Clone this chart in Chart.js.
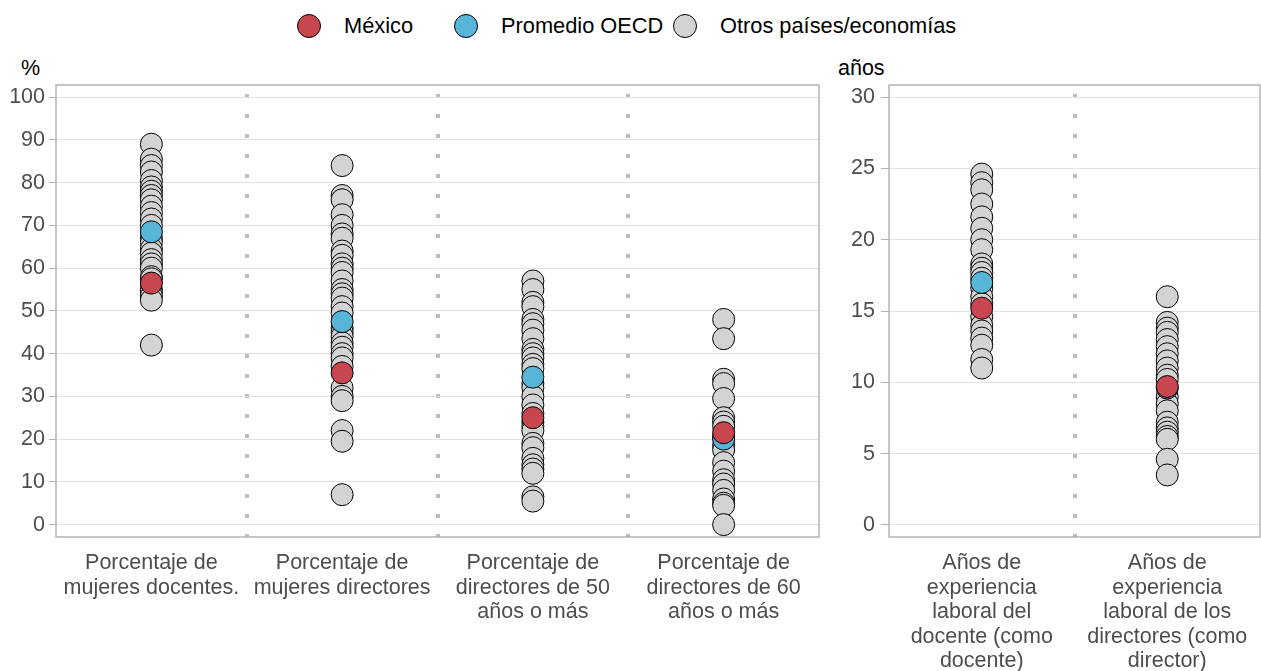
<!DOCTYPE html>
<html>
<head>
<meta charset="utf-8">
<script src="https://cdn.jsdelivr.net/npm/chart.js@4.4.1/dist/chart.umd.min.js"></script>
<style>
html,body{margin:0;padding:0;background:#fff;}
body{width:1261px;height:671px;position:relative;overflow:hidden;font-family:"Liberation Sans",Arial,sans-serif;}
#leftWrap{position:absolute;left:0;top:0;width:822px;height:671px;}
#rightWrap{position:absolute;left:822px;top:0;width:439px;height:671px;}
.unit{position:absolute;font-size:21.5px;color:#000;line-height:21px;}
.leg{position:absolute;top:14px;height:24px;display:flex;align-items:center;font-size:21.8px;color:#000;white-space:nowrap;}
.dot{width:22px;height:22px;border:1px solid #000;border-radius:50%;margin-right:23px;flex:none;}
</style>
</head>
<body>
<div id="legend"></div>
<div class="unit" style="left:21px;top:58px;">%</div>
<div class="unit" style="left:838px;top:58px;">años</div>
<div id="leftWrap"><canvas id="leftChart"></canvas></div>
<div id="rightWrap"><canvas id="rightChart"></canvas></div>
<script>
// ---------- data ----------
const seriesNames = ['México', 'Promedio OECD', 'Otros países/economías'];
const seriesColors = ['#C8474F', '#57B5D7', '#D3D3D3'];

const leftCategories = ['Porcentaje de mujeres docentes.', 'Porcentaje de mujeres directores', 'Porcentaje de directores de 50 años o más', 'Porcentaje de directores de 60 años o más'];
const leftTickLines = [['Porcentaje de', 'mujeres docentes.'], ['Porcentaje de', 'mujeres directores'], ['Porcentaje de', 'directores de 50', 'años o más'], ['Porcentaje de', 'directores de 60', 'años o más']];
const rightCategories = ['Años de experiencia laboral del docente (como docente)', 'Años de experiencia laboral de los directores (como director)'];
const rightTickLines = [['Años de', 'experiencia', 'laboral del', 'docente (como', 'docente)'], ['Años de', 'experiencia', 'laboral de los', 'directores (como', 'director)']];

const leftYTicks = [0, 10, 20, 30, 40, 50, 60, 70, 80, 90, 100];
const rightYTicks = [0, 5, 10, 15, 20, 25, 30];

const leftMexico = [56.5, 35.5, 25, 21.5];
const leftOecd = [68.5, 47.5, 34.5, 20];
const leftOthersDocentes = [89, 85.5, 84, 82.5, 80.5, 79, 78, 77, 76, 74.5, 73, 71.5, 70, 67, 66, 64.5, 63.5, 62, 61, 60, 58, 57.5, 55, 54.5, 53.5, 52.5, 42];
const leftOthersDirectoras = [84, 77, 76, 72.5, 70, 68, 67, 64, 63, 61, 60, 59, 57, 55, 54, 53, 51, 49.5, 46, 45, 44, 42.5, 41.5, 40, 39, 37, 32, 30, 29, 22, 19.5, 7];
const leftOthers50 = [57, 55, 52, 51, 48, 47, 45.5, 43.5, 41, 40, 39, 37.5, 36.5, 33, 32, 30, 28, 26, 24, 23, 22, 19, 18, 15.5, 14, 13, 12, 6.5, 5.5];
const leftOthers60 = [48, 43.5, 34, 33, 29.5, 25, 24, 23, 20.5, 18.5, 17.5, 14.5, 12.5, 10.5, 9.5, 8, 6, 5, 4.5, 0];

const rightMexico = [15.2, 9.7];
const rightOecd = [17, 9.6];
const rightOthersDocente = [24.6, 24.0, 23.5, 22.5, 21.6, 20.8, 20.0, 19.3, 18.3, 18, 17.7, 17.3, 16.6, 16, 15.5, 14.6, 14, 13.6, 13.1, 12.6, 11.6, 11];
const rightOthersDirector = [16, 14.2, 13.8, 13.5, 13, 12.5, 12, 11.5, 11, 10.5, 10.2, 9, 8.5, 8, 7.2, 6.8, 6.5, 6.2, 6, 4.6, 3.5];

// ---------- helpers ----------
const FONT = '"Liberation Sans", Arial, sans-serif';
function pts(cats, vals) { return vals.map((v, i) => ({ x: cats[i], y: v })); }
function groupPts(cats, groups) {
  const out = [];
  groups.forEach((g, i) => g.forEach(v => out.push({ x: cats[i], y: v })));
  return out;
}
const panelBox = {
  id: 'panelBox',
  beforeDatasetsDraw(chart) {
    const { ctx, chartArea: a } = chart;
    ctx.save();
    ctx.strokeStyle = '#b3b3b3';
    ctx.lineWidth = 1.5;
    ctx.strokeRect(a.left, a.top, a.right - a.left, a.bottom - a.top);
    ctx.restore();
  }
};

function makeChart(canvasId, cats, lines, series, yTicks, yMin, yMax, cfg) {
  const datasets = series.map((data, k) => ({
    label: seriesNames[k],
    data: data,
    backgroundColor: seriesColors[k],
    borderColor: '#000',
    borderWidth: 1,
    pointRadius: 11,
    pointHoverRadius: 11,
    clip: false
  }));
  return new Chart(document.getElementById(canvasId), {
    type: 'scatter',
    data: { labels: cats, datasets },
    plugins: [panelBox],
    options: {
      responsive: true,
      maintainAspectRatio: false,
      animation: false,
      events: [],
      layout: { autoPadding: false, padding: { top: 85, right: cfg.padRight, left: 0, bottom: 0 } },
      plugins: { legend: { display: false }, tooltip: { enabled: false } },
      scales: {
        x: {
          type: 'category',
          labels: cats,
          offset: true,
          afterFit: s => { s.height = 134; s.paddingLeft = 0; s.paddingRight = 0; },
          grid: {
            offset: true,
            drawTicks: false,
            lineWidth: 4,
            color: c => (c.type === 'tick' && c.index > 0) ? '#bdbdbd' : 'rgba(0,0,0,0)'
          },
          border: { display: false, dash: [4, 16], dashOffset: 11 },
          ticks: {
            autoSkip: false, maxRotation: 0, minRotation: 0,
            padding: 14,
            color: '#4d4d4d',
            font: { family: FONT, size: 21.5, lineHeight: 1.14 },
            callback: (v, i) => lines[i]
          }
        },
        y: {
          min: yMin, max: yMax,
          afterFit: s => { s.width = cfg.yWidth; s.paddingTop = 0; s.paddingBottom = 0; },
          afterBuildTicks: s => { s.ticks = yTicks.map(v => ({ value: v })); },
          grid: { color: '#e3e3e3', lineWidth: 1, tickColor: '#b3b3b3', tickLength: cfg.tickLen, drawTicks: true },
          border: { display: false },
          ticks: {
            padding: cfg.tickPad,
            color: '#4d4d4d',
            font: { family: FONT, size: 21.5 }
          }
        }
      }
    }
  });
}

const leftChart = makeChart('leftChart', leftCategories, leftTickLines, [
  pts(leftCategories, leftMexico),
  pts(leftCategories, leftOecd),
  groupPts(leftCategories, [leftOthersDocentes, leftOthersDirectoras, leftOthers50, leftOthers60])
], leftYTicks, -2.9, 102.85, { yWidth: 56, tickLen: 7, tickPad: 4, padRight: 3 });

const rightChart = makeChart('rightChart', rightCategories, rightTickLines, [
  pts(rightCategories, rightMexico),
  pts(rightCategories, rightOecd),
  groupPts(rightCategories, [rightOthersDocente, rightOthersDirector])
], rightYTicks, -0.85, 30.85, { yWidth: 67, tickLen: 8, tickPad: 6, padRight: 1 });

// ---------- HTML legend from chart datasets ----------
const legendLeft = [297, 454, 673];
const legendEl = document.getElementById('legend');
leftChart.data.datasets.forEach((ds, i) => {
  const item = document.createElement('div');
  item.className = 'leg';
  item.style.left = legendLeft[i] + 'px';
  const dot = document.createElement('div');
  dot.className = 'dot';
  dot.style.background = ds.backgroundColor;
  const txt = document.createElement('span');
  txt.textContent = ds.label;
  item.appendChild(dot);
  item.appendChild(txt);
  legendEl.appendChild(item);
});
</script>
</body>
</html>
